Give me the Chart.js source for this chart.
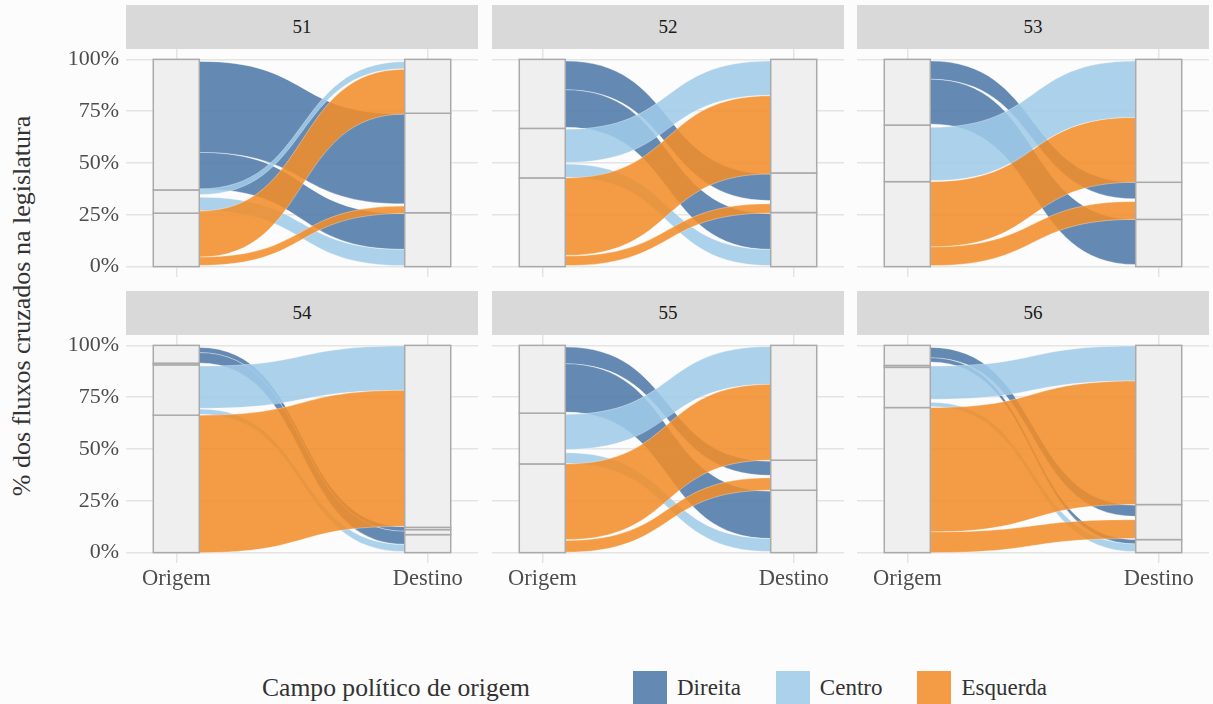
<!DOCTYPE html>
<html lang="pt">
<head>
<meta charset="utf-8">
<title>Fluxos entre campos políticos por legislatura</title>
<script src="https://cdn.jsdelivr.net/npm/chart.js@4.4.1/dist/chart.umd.min.js"></script>
<style>
  html, body { margin: 0; padding: 0; background: #fcfcfc; }
  body { width: 1213px; height: 704px; position: relative; overflow: hidden; font-family: "Liberation Serif", "Times New Roman", Times, "DejaVu Serif", "Noto Serif", serif; }
  .strip { position: absolute; width: 352px; height: 44px; background: #d9d9d9; color: #1a1a1a; font-size: 19px; display: flex; align-items: center; justify-content: center; }
  canvas { position: absolute; }
  #ytitulo { position: absolute; left: 22px; top: 306px; transform: translate(-50%, -50%) rotate(-90deg); white-space: nowrap; font-size: 26px; color: #333; }
  #legenda { position: absolute; left: 262px; top: 671px; height: 34px; display: flex; align-items: center; color: #333; }
  #legenda .titulo { font-size: 25.6px; margin-right: 103px; }
  #legenda .caixa { width: 34px; height: 34px; margin-right: 10px; }
  #legenda .rotulo { font-size: 23px; margin-right: 35px; }
</style>
</head>
<body>
<div id="ytitulo">% dos fluxos cruzados na legislatura</div>
<div id="legenda"><span class="titulo">Campo político de origem</span></div>
<script>
// Fluxos entre campos (Direita / Centro / Esquerda), origem -> destino, por legislatura
const legislaturas = ["51", "52", "53", "54", "55", "56"];
const campos = ["Direita", "Centro", "Esquerda"];
const coresCampo = ["rgba(78,121,167,0.88)", "rgba(160,203,232,0.88)", "rgba(242,142,43,0.88)"];
const eixoX = ["Origem", "Destino"];
const ticksY = [0, 25, 50, 75, 100];

// limites dos estratos (% acumulado, de baixo para cima)
const estratosOrigem = [
  [0, 25.8, 37, 100],
  [0, 42.8, 66.7, 100],
  [0, 41, 68.3, 100],
  [0, 66.3, 90.6, 91.4, 100],
  [0, 42.8, 67.3, 100],
  [0, 70, 89.4, 90.3, 100]
];
const estratosDestino = [
  [0, 26, 74, 100],
  [0, 26.1, 45.2, 100],
  [0, 22.8, 40.7, 100],
  [0, 8.7, 11.1, 12.2, 100],
  [0, 30.1, 44.6, 100],
  [0, 6.3, 23.2, 100]
];

// fluxos: [campo, origem_inf, origem_sup, destino_inf, destino_sup]
const fluxos51 = [
  [0, 55.1, 99, 30.3, 73.6],
  [0, 37.5, 55.1, 8.3, 25.6],
  [1, 34.8, 37.5, 95.5, 98.9],
  [1, 27, 33.5, 0.5, 8.3],
  [2, 4.6, 26.8, 73.6, 95.2],
  [2, 0.6, 4.6, 25.6, 29.2]
];
const fluxos52 = [
  [0, 85.3, 99.2, 31.9, 44.7],
  [0, 67.2, 85.3, 8.3, 25.5],
  [1, 50.3, 66.3, 82.7, 99.2],
  [1, 43.1, 49.5, 0.5, 8.3],
  [2, 5.4, 42.8, 44.7, 82.4],
  [2, 0.5, 5.1, 25.8, 30.3]
];
const fluxos53 = [
  [0, 90.4, 99.2, 32.7, 40.7],
  [0, 68.8, 90.4, 1, 22.8],
  [1, 41.5, 67.2, 72, 99.2],
  [2, 9.5, 41, 40.7, 72],
  [2, 0.5, 9.5, 22.8, 31.4]
];
const fluxos54 = [
  [0, 96.5, 99, 10.3, 12.5],
  [0, 91.5, 96.5, 4, 10.3],
  [1, 69.6, 90, 78.3, 99.7],
  [1, 66.8, 69.3, 0.5, 3.9],
  [2, 0, 66.3, 12.7, 78.3]
];
const fluxos55 = [
  [0, 91.1, 99.2, 37.3, 44.1],
  [0, 67.8, 91.1, 6.8, 29.6],
  [1, 49.8, 66.7, 81.2, 99.4],
  [1, 43, 48.2, 0.5, 6.8],
  [2, 6.3, 42.8, 44.6, 81.2],
  [2, 0.2, 5.8, 30.1, 36.1]
];
const fluxos56 = [
  [0, 94, 99, 17.5, 22.9],
  [0, 92, 94, 4.2, 6.3],
  [1, 74, 90, 82.8, 99.7],
  [1, 70.5, 72.5, 0.5, 4.2],
  [2, 10, 70, 23.2, 82.8],
  [2, 0, 10, 6.8, 15.9]
];
const fluxos = [fluxos51, fluxos52, fluxos53, fluxos54, fluxos55, fluxos56];

const LARGURA = 0.183;   // largura do estrato em unidades do eixo x
const painelX = [126, 492, 857];
const painelY = [49, 335];
const PAINEL_W = 352, PAINEL_H = 228, EIXO_Y_W = 66, EIXO_X_H = 37;
const fonte = "'Liberation Serif', 'Times New Roman', Times, 'DejaVu Serif', 'Noto Serif', serif";

// desenha fluxos e estratos pelas escalas do Chart.js
const aluvial = {
  id: "aluvial",
  beforeDatasetsDraw: function(chart, args, o) {
    const ctx = chart.ctx, x = chart.scales.x, y = chart.scales.y;
    const xo = x.getPixelForValue(1 + LARGURA / 2), xd = x.getPixelForValue(2 - LARGURA / 2);
    const k = (xd - xo) * 0.55;
    ctx.save();
    o.fluxos.forEach(function(f) {
      const a = y.getPixelForValue(f[2]), b = y.getPixelForValue(f[1]);
      const c = y.getPixelForValue(f[4]), d = y.getPixelForValue(f[3]);
      ctx.beginPath();
      ctx.moveTo(xo, a);
      ctx.bezierCurveTo(xo + k, a, xd - k, c, xd, c);
      ctx.lineTo(xd, d);
      ctx.bezierCurveTo(xd - k, d, xo + k, b, xo, b);
      ctx.closePath();
      ctx.fillStyle = coresCampo[f[0]];
      ctx.fill();
      ctx.strokeStyle = "rgba(255,255,255,0.45)";
      ctx.lineWidth = 0.7;
      ctx.stroke();
    });
    [[1, o.origem], [2, o.destino]].forEach(function(p) {
      const l = x.getPixelForValue(p[0] - LARGURA / 2), r = x.getPixelForValue(p[0] + LARGURA / 2);
      for (let i = 0; i < p[1].length - 1; i++) {
        const t = y.getPixelForValue(p[1][i + 1]), bt = y.getPixelForValue(p[1][i]);
        ctx.fillStyle = "#efefef";
        ctx.fillRect(l, t, r - l, bt - t);
        ctx.strokeStyle = "#aaaaaa";
        ctx.lineWidth = 1.5;
        ctx.strokeRect(l, t, r - l, bt - t);
      }
    });
    ctx.restore();
  }
};

function semPadding(ax) { ax.paddingLeft = 0; ax.paddingRight = 0; ax.paddingTop = 0; ax.paddingBottom = 0; }

legislaturas.forEach(function(leg, i) {
  const col = i % 3, lin = Math.floor(i / 3);
  const strip = document.createElement("div");
  strip.className = "strip";
  strip.style.left = painelX[col] + "px";
  strip.style.top = (painelY[lin] - 44) + "px";
  strip.textContent = leg;
  document.body.appendChild(strip);

  const cv = document.createElement("canvas");
  const yW = col === 0 ? EIXO_Y_W : 0, xH = lin === 1 ? EIXO_X_H : 0;
  cv.width = PAINEL_W + yW;
  cv.height = PAINEL_H + xH;
  cv.style.left = (painelX[col] - yW) + "px";
  cv.style.top = painelY[lin] + "px";
  document.body.appendChild(cv);

  new Chart(cv, {
    type: "scatter",
    data: { datasets: [{ data: [] }] },
    plugins: [aluvial],
    options: {
      responsive: false, animation: false,
      layout: { padding: 0, autoPadding: false },
      plugins: {
        legend: { display: false }, tooltip: { enabled: false },
        aluvial: { fluxos: fluxos[i], origem: estratosOrigem[i], destino: estratosDestino[i] }
      },
      scales: {
        x: {
          type: "linear", min: 0.8, max: 2.2,
          afterBuildTicks: function(ax) { ax.ticks = [{ value: 1 }, { value: 2 }]; },
          afterFit: function(ax) { ax.height = xH; semPadding(ax); },
          grid: { color: "#e4e4e4", lineWidth: 1.5, drawTicks: false, tickLength: 0 },
          border: { display: false },
          ticks: {
            display: lin === 1, autoSkip: false, maxRotation: 0, padding: 3,
            color: "#4d4d4d", font: { family: fonte, size: 22.5 },
            callback: function(v) { return eixoX[v - 1]; }
          }
        },
        y: {
          type: "linear", min: -5, max: 105,
          afterBuildTicks: function(ax) { ax.ticks = ticksY.map(function(v) { return { value: v }; }); },
          afterFit: function(ax) { ax.width = yW; semPadding(ax); },
          grid: { color: "#e4e4e4", lineWidth: 1.5, drawTicks: false, tickLength: 0 },
          border: { display: false },
          ticks: {
            display: col === 0, padding: 7,
            color: "#4d4d4d", font: { family: fonte, size: 22 },
            callback: function(v) { return v + "%"; }
          }
        }
      }
    }
  });
});

// legenda
const legenda = document.getElementById("legenda");
campos.forEach(function(c, i) {
  const cx = document.createElement("span");
  cx.className = "caixa";
  cx.style.background = coresCampo[i];
  const r = document.createElement("span");
  r.className = "rotulo";
  r.textContent = c;
  legenda.appendChild(cx);
  legenda.appendChild(r);
});
</script>
</body>
</html>
